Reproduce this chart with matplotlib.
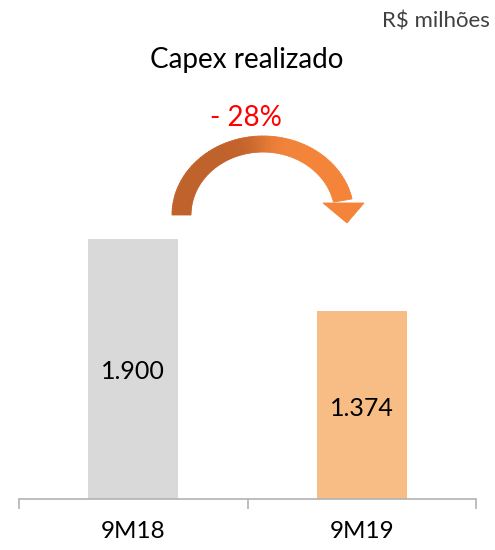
import numpy as np
import matplotlib.pyplot as plt
from matplotlib.patches import Polygon
from matplotlib.colors import to_rgb

# dados
categorias = ["9M18", "9M19"]
capex = [1900, 1374]
rotulos = ["1.900", "1.374"]
variacao = "- 28%"
cores_barras = ["#D9D9D9", "#F8BD85"]

plt.rcParams['font.family'] = ['Lato', 'DejaVu Sans']

W, H = 495, 550
fig = plt.figure(figsize=(W / 100, H / 100), dpi=100)

# eixo principal (em pixels: x 19..476, base em y=499)
y_base = 499
y_topo = 60
ax = fig.add_axes([19 / W, (H - y_base) / H, 457 / W, (y_base - y_topo) / H])
x = np.arange(len(categorias))
ax.bar(x, capex, width=0.395, color=cores_barras)
ax.set_xlim(-0.5, 1.5)
escala = 260 / 1900  # px por unidade
ax.set_ylim(0, (y_base - y_topo) / escala)

for s in ['top', 'right', 'left']:
    ax.spines[s].set_visible(False)
ax.spines['bottom'].set_color('#B3B3B3')
ax.spines['bottom'].set_linewidth(1.2)
ax.set_yticks([])
ax.set_xticks(x)
ax.set_xticklabels(categorias, fontsize=17.5)
ax.tick_params(axis='x', which='major', length=0, pad=16)
ax.set_xticks([-0.5, 0.5, 1.5], minor=True)
ax.tick_params(axis='x', which='minor', length=7, color='#B3B3B3', width=1.2, direction='out')

# rótulos dentro das barras
ax.text(x[0], 1900 - (372 - 239) / escala, rotulos[0], ha='center', va='center', fontsize=18)
ax.text(x[1], 1374 - (408 - 310) / escala, rotulos[1], ha='center', va='center', fontsize=18)

# textos
fig.text(490 / W, 1 - 21 / H, "R$ milhões", ha='right', va='center', fontsize=16, color='#404040')
fig.text(247 / W, 1 - 60 / H, "Capex realizado", ha='center', va='center', fontsize=20)
fig.text(246 / W, 1 - 118 / H, variacao, ha='center', va='center', fontsize=20, color='#FF0000')

# seta curva com gradiente (camada em pixels)
ov = fig.add_axes([0, 0, 1, 1])
ov.set_xlim(0, W)
ov.set_ylim(H, 0)
ov.axis('off')

cx, cy = 263, 215
rxo, ryo = 91, 79
rxi, ryi = 72, 63
c1 = np.array(to_rgb("#C0622B"))
c2 = np.array(to_rgb("#F3843A"))
ang = np.radians(np.linspace(180, 12, 80))
for i in range(len(ang) - 1):
    a0, a1 = ang[i], ang[i + 1] - 0.004
    pts = [(cx + rxo * np.cos(a0), cy - ryo * np.sin(a0)),
           (cx + rxo * np.cos(a1), cy - ryo * np.sin(a1)),
           (cx + rxi * np.cos(a1), cy - ryi * np.sin(a1)),
           (cx + rxi * np.cos(a0), cy - ryi * np.sin(a0))]
    f = 1 / (1 + np.exp(-(np.degrees(a0) - 92) / -6))
    cor = c1 * (1 - f) + c2 * f
    ov.add_patch(Polygon(pts, closed=True, facecolor=cor, edgecolor=cor, lw=0.6))
ov.add_patch(Polygon([(323, 203), (364, 203), (347, 223)], closed=True,
                     facecolor=c2, edgecolor=c2, lw=0.6))

fig.savefig("out.png", dpi=100)
